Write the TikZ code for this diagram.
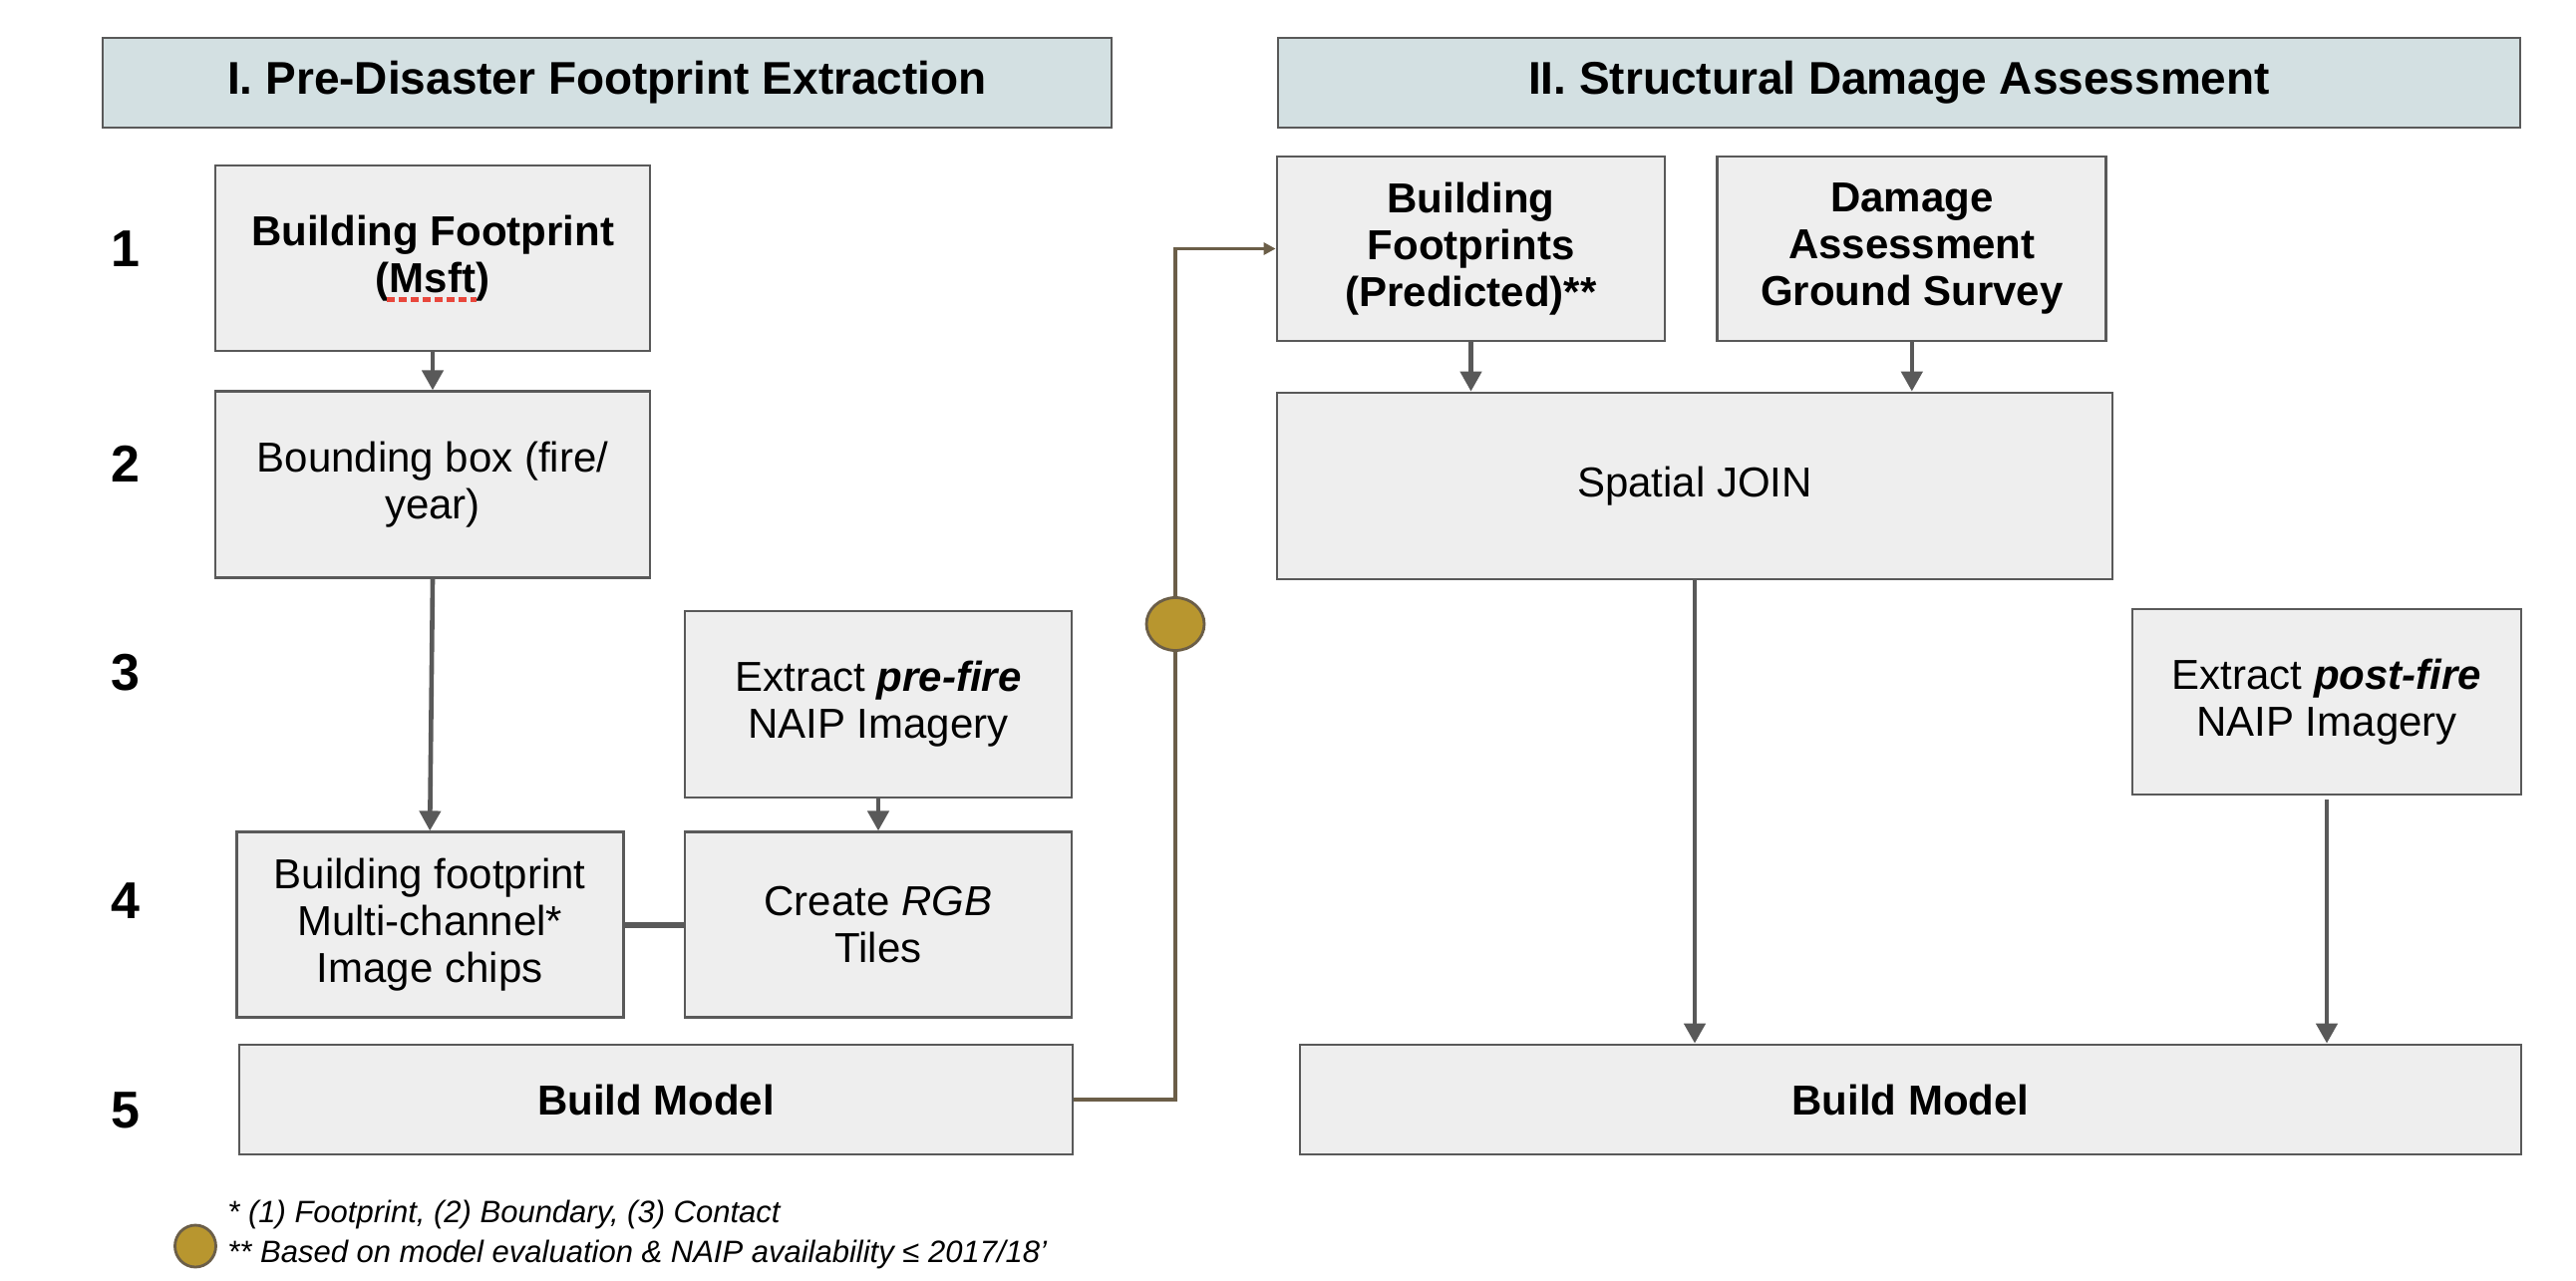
\documentclass[tikz,border=0pt]{standalone}
\usepackage{fontspec}
\setmainfont{Liberation Sans}
\usetikzlibrary{shapes,arrows.meta,positioning}

\definecolor{boxfill}{HTML}{EEEEEE}
\definecolor{boxline}{HTML}{595959}
\definecolor{headfill}{HTML}{D3E0E2}
\definecolor{gold}{HTML}{B8962F}
\definecolor{brownline}{HTML}{6B5E48}
\definecolor{spellred}{HTML}{E8473C}

\begin{document}
\begin{tikzpicture}[x=0.5pt,y=-0.5pt]
  \tikzset{
    heading/.style={draw=boxline, fill=headfill, line width=1.4pt, minimum height=45pt,
      font=\fontsize{23}{27}\selectfont\bfseries},
    task/.style={draw=boxline, fill=boxfill, line width=1.4pt, align=center, inner sep=0pt,
      font=\fontsize{21}{23.5}\selectfont},
    boldtask/.style={task, font=\fontsize{21}{23.5}\selectfont\bfseries},
    tasknum/.style={font=\fontsize{26}{30}\selectfont\bfseries},
    myarrow/.style={-{Triangle[length=10pt,width=10.5pt]}, draw=boxline, line width=2.3pt},
    joinline/.style={draw=boxline, line width=3pt},
    feed/.style={draw=brownline, line width=1.6pt},
    gate/.style={ellipse, draw=brownline, fill=gold, line width=1.4pt, inner sep=0pt},
    spell/.style={draw=spellred, line width=2.5pt, dash pattern=on 4pt off 2pt},
    note/.style={anchor=west, inner sep=0pt, font=\fontsize{15.5}{18}\selectfont\itshape},
  }
  \useasboundingbox (0,0) rectangle (2584,1284);

  % headings
  \node[heading, minimum width=506pt] (headI) at (609,83) {I. Pre-Disaster Footprint Extraction};
  \node[heading, minimum width=623pt] (headII) at (1905,83) {II. Structural Damage Assessment};

  % step numbers
  \foreach \n/\y in {1/250,2/465,3/675,4/904,5/1114}
    \node[tasknum] (num\n) at (126,\y) {\n};

  % part I
  \node[boldtask, minimum width=218pt, minimum height=93pt] (msft) at (434,259) {Building Footprint\\(Msft)};
  \node[task, minimum width=218pt, minimum height=93.5pt] (bbox) [below=19pt of msft] {Bounding box (fire/\\year)};
  \node[task, minimum width=194pt, minimum height=93.5pt] (prefire) at (881,706.5) {Extract \textbf{\textit{pre-fire}}\\NAIP Imagery};
  \node[task, minimum width=194pt, minimum height=93pt] (rgbtiles) [below=16pt of prefire] {Create \textit{RGB}\\Tiles};
  \node[task, minimum width=194pt, minimum height=93pt] (chips) [left=29.5pt of rgbtiles] {Building footprint\\Multi-channel*\\Image chips};
  \node[boldtask, minimum width=418pt, minimum height=55pt] (modelL) at (658,1103) {Build Model};

  % part II
  \node[boldtask, minimum width=194.5pt, minimum height=92.5pt] (predfp) at (1475.5,249.5) {Building\\Footprints\\(Predicted)**};
  \node[boldtask, minimum width=195pt, minimum height=92.5pt] (survey) [right=25pt of predfp] {Damage\\Assessment\\Ground Survey};
  \node[task, minimum width=419pt, minimum height=93.5pt] (sjoin) at (1700,487.5) {Spatial JOIN};
  \node[task, minimum width=195pt, minimum height=93pt] (postfire) at (2334,704) {Extract \textbf{\textit{post-fire}}\\NAIP Imagery};
  \node[boldtask, minimum width=612.5pt, minimum height=55pt] (modelR) at (1916.5,1103) {Build Model};

  \node[gate, minimum width=29pt, minimum height=26.5pt] (gatecirc) at (1179,626) {};

  % notes
  \node[gate, minimum width=20.5pt, minimum height=21pt] (legend) at (196,1250) {};
  \node[note] (note1) at (228,1218) {* (1) Footprint, (2) Boundary, (3) Contact};
  \node[note] (note2) at (228,1258) {** Based on model evaluation \& NAIP availability ≤ 2017/18’};

  \draw[spell] ([xshift=-23pt,yshift=-20.5pt]msft.center) -- ([xshift=22pt,yshift=-20.5pt]msft.center);

  \draw[myarrow] (msft) -- (bbox);
  \draw[myarrow] (bbox.south) -- (chips.north);
  \draw[myarrow] (prefire) -- (rgbtiles);
  \draw[joinline] (chips.east) -- (rgbtiles.west);

  \draw[feed] (modelL.east) -| (gatecirc.south);
  \draw[feed, -{Triangle[length=6pt,width=6pt]}] (gatecirc.north) |- (predfp.west);

  \draw[myarrow] (predfp.south) -- (predfp.south |- sjoin.north);
  \draw[myarrow] (survey.south) -- (survey.south |- sjoin.north);
  \draw[myarrow] (sjoin.south) -- (sjoin.south |- modelR.north);
  \draw[myarrow, shorten <=2pt] (postfire.south) -- (postfire.south |- modelR.north);

\end{tikzpicture}
\end{document}
